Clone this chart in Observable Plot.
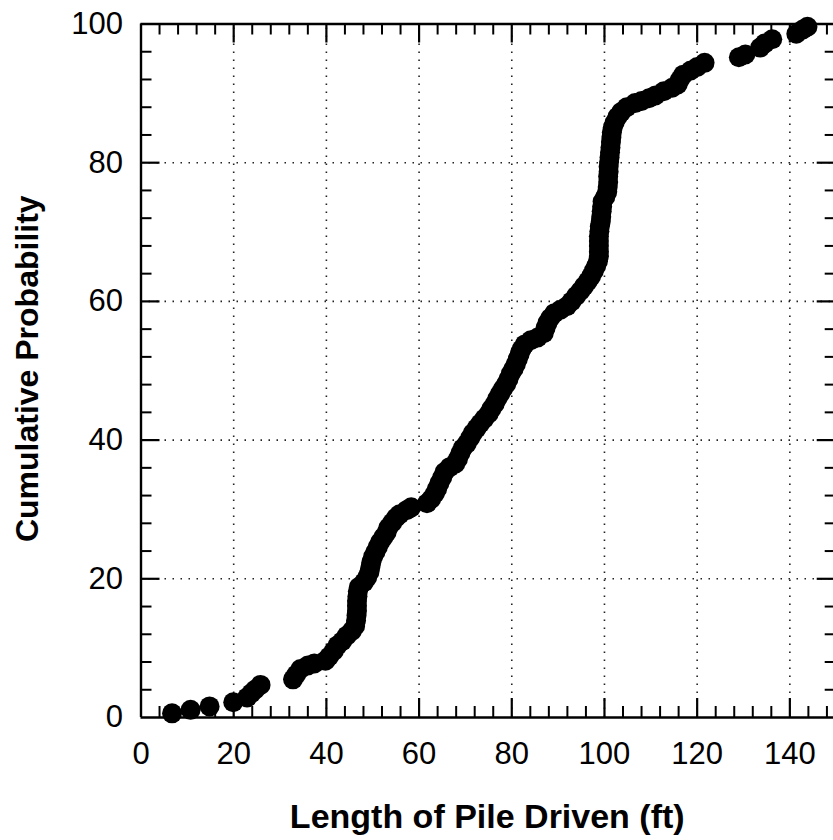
<!DOCTYPE html>
<html>
<head>
<meta charset="utf-8">
<script src="https://cdn.jsdelivr.net/npm/d3@7"></script>
<script src="https://cdn.jsdelivr.net/npm/@observablehq/plot@0.6"></script>
<style>
  html, body { margin: 0; padding: 0; background: #fff; }
  #chart svg { display: block; }
</style>
</head>
<body>
<div id="chart"></div>
<script>
// ---- data ----
const lengthFt = [
  6.7, 10.7, 14.8, 19.9, 22.9, 23.8, 24.6, 25.8,
  32.8, 33.5, 34.4, 36.0, 37.4, 39.8, 40.6, 41.6, 42.4, 43.4, 44.4, 45.5,
  46.2, 46.4, 46.5, 46.6, 46.6, 46.6, 46.7, 46.8, 47.0, 48.1, 48.8, 49.3,
  49.5, 49.7, 50.1, 50.6, 51.1, 51.6, 52.3, 53.0, 53.4, 54.2, 55.0, 55.8,
  57.3, 58.3,
  61.7, 62.6, 63.4, 63.9, 64.4, 65.0, 65.5, 66.6, 67.8, 68.4, 68.9, 69.4,
  70.3, 71.0, 71.6, 72.4, 73.2, 74.1, 75.0, 75.6, 76.3, 76.9, 77.5, 78.1,
  78.8, 79.3, 79.8, 80.4, 80.9, 81.3, 81.7, 82.1, 82.8, 84.1, 85.6, 86.9,
  87.3, 87.7, 88.3, 89.2, 90.5, 91.9, 92.9, 93.9, 94.8, 95.6, 96.4, 97.1,
  97.7, 98.2, 98.6, 98.8, 98.8, 98.8, 98.8, 98.8, 98.9, 99.0, 99.2, 99.3,
  99.4, 99.5, 99.6, 100.2, 100.6, 100.7, 100.8, 100.8, 100.9, 100.9, 101.0, 101.1,
  101.2, 101.3, 101.4, 101.5, 101.6, 101.8, 102.2, 102.8, 103.6, 104.8, 106.6, 108.0,
  109.6, 111.0, 112.8, 114.6, 115.8, 116.3, 117.0, 118.6, 120.0, 121.6,
  129.0, 130.4, 133.6, 134.6, 136.2, 141.4, 142.8, 143.8
];
const cumProb = [
  0.6, 1.1, 1.6, 2.2, 2.9, 3.5, 4.0, 4.7,
  5.5, 6.2, 7.0, 7.5, 7.8, 8.2, 8.8, 9.6, 10.4, 11.0, 11.8, 12.5,
  13.2, 14.0, 14.7, 15.4, 16.1, 16.8, 17.5, 18.2, 18.8, 19.5, 20.2, 21.0,
  21.7, 22.4, 23.2, 23.9, 24.6, 25.3, 26.0, 26.7, 27.4, 28.1, 28.8, 29.3,
  29.9, 30.3,
  30.9, 31.5, 32.3, 33.0, 33.8, 34.6, 35.4, 36.1, 36.6, 37.3, 38.1, 38.8,
  39.5, 40.3, 41.0, 41.7, 42.4, 43.1, 43.8, 44.5, 45.2, 46.0, 46.7, 47.4,
  48.1, 48.8, 49.6, 50.3, 51.0, 51.7, 52.4, 53.1, 53.8, 54.4, 54.8, 55.4,
  56.2, 56.9, 57.6, 58.3, 58.8, 59.3, 60.0, 60.8, 61.5, 62.2, 62.9, 63.6,
  64.4, 65.1, 65.8, 66.5, 67.2, 68.0, 68.7, 69.4, 70.1, 70.8, 71.5, 72.2,
  73.0, 73.7, 74.4, 75.1, 75.8, 76.5, 77.2, 78.0, 78.7, 79.4, 80.1, 80.8,
  81.5, 82.2, 83.0, 83.7, 84.4, 85.1, 85.8, 86.6, 87.3, 88.0, 88.6, 88.9,
  89.3, 89.7, 90.3, 90.8, 91.3, 92.0, 92.7, 93.3, 93.8, 94.4,
  95.2, 95.6, 96.6, 97.2, 97.8, 98.6, 99.2, 99.6
];
const xTickLabels = [0, 20, 40, 60, 80, 100, 120, 140];
const yTickLabels = [0, 20, 40, 60, 80, 100];
const xGridValues = [20, 40, 60, 80, 100, 120, 140];
const yGridValues = [20, 40, 60, 80];
const xMajorTicks = [20, 40, 60, 80, 100, 120, 140];
const xMinorTicks = [4, 8, 12, 16, 24, 28, 32, 36, 44, 48, 52, 56, 64, 68, 72, 76, 84, 88, 92, 96,
                     104, 108, 112, 116, 124, 128, 132, 136, 144, 148];
const yMajorTicks = [20, 40, 60, 80];
const yMinorTicks = [4, 8, 12, 16, 24, 28, 32, 36, 44, 48, 52, 56, 64, 68, 72, 76, 84, 88, 92, 96];
const xTitle = "Length of Pile Driven (ft)";
const yTitle = "Cumulative Probability";

const points = lengthFt.map((x, i) => ({x, y: cumProb[i]}));

// ---- layout ----
const W = 833, H = 840;
const padLeft = 140.5, padRightEdge = 835.7, padTop = 23.5, padBottomEdge = 717;
const xMax = 150, yMax = 100;
const kx = (padRightEdge - padLeft) / xMax;   // px per ft
const ky = (padBottomEdge - padTop) / yMax;   // px per %
const majorLen = 19, minorLen = 11;

const fontStack = "'Liberation Sans', Arial, Helvetica, sans-serif";

const chart = Plot.plot({
  width: W,
  height: H,
  marginLeft: padLeft,
  marginRight: 0,
  marginTop: padTop,
  marginBottom: H - padBottomEdge,
  style: {fontFamily: fontStack, background: "#fff", color: "#000"},
  x: {domain: [0, xMax], range: [padLeft, padRightEdge]},
  y: {domain: [0, yMax], range: [padBottomEdge, padTop]},
  marks: [
    // dotted grid
    Plot.ruleX(xGridValues, {y1: 0, y2: yMax, stroke: "#222", strokeWidth: 1.6, strokeDasharray: "1.5,6.5"}),
    Plot.ruleY(yGridValues, {x1: 0, x2: xMax, stroke: "#222", strokeWidth: 1.6, strokeDasharray: "1.5,6.5"}),
    // bottom ticks
    Plot.ruleX(xMajorTicks, {y1: 0, y2: majorLen / ky, stroke: "#000", strokeWidth: 2.2}),
    Plot.ruleX(xMinorTicks, {y1: 0, y2: minorLen / ky, stroke: "#000", strokeWidth: 2}),
    // top ticks
    Plot.ruleX(xMajorTicks, {y1: yMax, y2: yMax - majorLen / ky, stroke: "#000", strokeWidth: 2.2}),
    Plot.ruleX(xMinorTicks, {y1: yMax, y2: yMax - minorLen / ky, stroke: "#000", strokeWidth: 2}),
    // left ticks
    Plot.ruleY(yMajorTicks, {x1: 0, x2: majorLen / kx, stroke: "#000", strokeWidth: 2.2}),
    Plot.ruleY(yMinorTicks, {x1: 0, x2: minorLen / kx, stroke: "#000", strokeWidth: 2}),
    // right ticks
    Plot.ruleY(yMajorTicks, {x1: xMax, x2: xMax - majorLen / kx, stroke: "#000", strokeWidth: 2.2}),
    Plot.ruleY(yMinorTicks, {x1: xMax, x2: xMax - minorLen / kx, stroke: "#000", strokeWidth: 2}),
    // frame (left, bottom, top)
    Plot.ruleX([0], {y1: 0, y2: yMax, stroke: "#000", strokeWidth: 2.4}),
    Plot.ruleY([0, yMax], {x1: 0, x2: xMax, stroke: "#000", strokeWidth: 2.4}),
    // tick labels
    Plot.axisX({ticks: xTickLabels, tickSize: 0, tickPadding: 24, fontSize: 31, label: null, anchor: "bottom", fill: "#000"}),
    Plot.axisY({ticks: yTickLabels, tickSize: 0, tickPadding: 18, fontSize: 31, label: null, anchor: "left", fill: "#000"}),
    // axis titles
    Plot.text([xTitle], {frameAnchor: "bottom", textAnchor: "middle", lineAnchor: "bottom", dy: 110, fontSize: 34, fontWeight: "bold", fill: "#000"}),
    Plot.text([yTitle], {frameAnchor: "left", textAnchor: "middle", rotate: -90, lineAnchor: "bottom", dx: -103, dy: -2, fontSize: 32, fontWeight: "bold", fill: "#000"}),
    // data points
    Plot.dot(points, {x: "x", y: "y", r: 10, fill: "#000", stroke: "none"})
  ]
});

document.getElementById("chart").appendChild(chart);
</script>
</body>
</html>
